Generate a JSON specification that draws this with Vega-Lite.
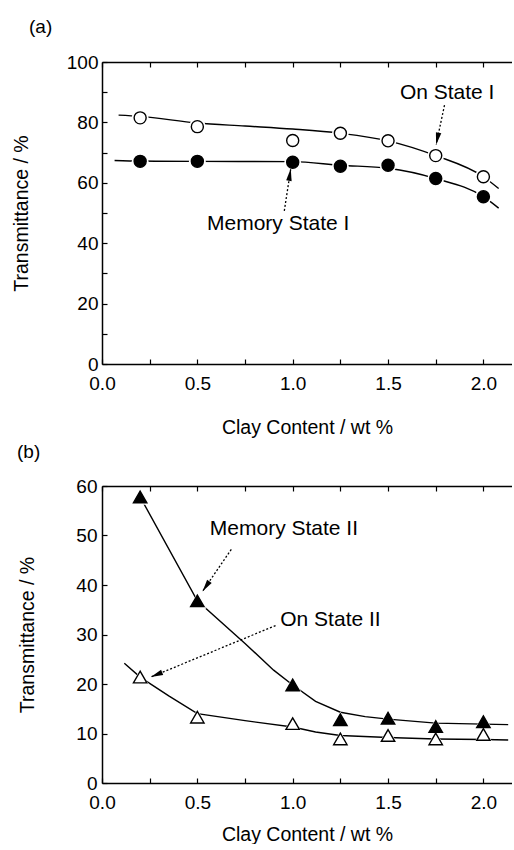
{
  "$schema": "https://vega.github.io/schema/vega-lite/v6.json",
  "padding": {"left": 11, "top": 18, "right": 0, "bottom": 0},
  "spacing": 6,
  "config": {
    "font": "Liberation Sans",
    "view": {"stroke": null},
    "axis": {
      "labelFont": "Liberation Sans", "labelFontSize": 19, "labelColor": "black",
      "titleFont": "Liberation Sans", "titleFontSize": 19.5, "titleFontWeight": "normal", "titleColor": "black",
      "domainColor": "black", "domainWidth": 1.5, "tickColor": "black", "tickSize": -5, "tickWidth": 1.2,
      "grid": false, "labelFlush": false, "labelOverlap": false
    },
    "title": {"font": "Liberation Sans", "fontSize": 19, "fontWeight": "normal", "anchor": "start", "frame": "group", "color": "black"}
  },
  "datasets": {
    "ptsA": [
      {"series": "On State I", "x": 0.2, "y": 81.5}, {"series": "On State I", "x": 0.5, "y": 78.6},
      {"series": "On State I", "x": 1.0, "y": 74.0}, {"series": "On State I", "x": 1.25, "y": 76.4},
      {"series": "On State I", "x": 1.5, "y": 73.9}, {"series": "On State I", "x": 1.75, "y": 69.0},
      {"series": "On State I", "x": 2.0, "y": 62.0},
      {"series": "Memory State I", "x": 0.2, "y": 67.1}, {"series": "Memory State I", "x": 0.5, "y": 67.1},
      {"series": "Memory State I", "x": 1.0, "y": 66.8}, {"series": "Memory State I", "x": 1.25, "y": 65.5},
      {"series": "Memory State I", "x": 1.5, "y": 65.8}, {"series": "Memory State I", "x": 1.75, "y": 61.4},
      {"series": "Memory State I", "x": 2.0, "y": 55.4}
    ],
    "fitA": [
      {"series": "On State I", "x": 0.087, "y": 82.4}, {"series": "On State I", "x": 0.2, "y": 82.0},
      {"series": "On State I", "x": 0.5, "y": 79.8}, {"series": "On State I", "x": 0.75, "y": 78.8},
      {"series": "On State I", "x": 1.0, "y": 77.8}, {"series": "On State I", "x": 1.25, "y": 76.4},
      {"series": "On State I", "x": 1.5, "y": 73.9}, {"series": "On State I", "x": 1.75, "y": 69.0},
      {"series": "On State I", "x": 2.0, "y": 62.0}, {"series": "On State I", "x": 2.08, "y": 58.1},
      {"series": "Memory State I", "x": 0.066, "y": 67.4}, {"series": "Memory State I", "x": 0.2, "y": 67.2},
      {"series": "Memory State I", "x": 0.5, "y": 67.1}, {"series": "Memory State I", "x": 1.0, "y": 67.0},
      {"series": "Memory State I", "x": 1.25, "y": 65.8}, {"series": "Memory State I", "x": 1.5, "y": 64.8},
      {"series": "Memory State I", "x": 1.75, "y": 61.4}, {"series": "Memory State I", "x": 2.0, "y": 55.4},
      {"series": "Memory State I", "x": 2.08, "y": 51.6}
    ],
    "labelsA": [
      {"text": "On State I", "x": 1.81, "y": 89.7},
      {"text": "Memory State I", "x": 0.924, "y": 46.3}
    ],
    "arrowsA": [
      {"text": "On State I", "x": 1.796, "y": 85.7, "x2": 1.752, "y2": 72.6},
      {"text": "Memory State I", "x": 0.956, "y": 50.7, "x2": 0.99, "y2": 64.7}
    ],
    "ptsB": [
      {"series": "Memory State II", "x": 0.2, "y": 57.8}, {"series": "Memory State II", "x": 0.5, "y": 36.8},
      {"series": "Memory State II", "x": 1.0, "y": 19.8}, {"series": "Memory State II", "x": 1.25, "y": 12.8},
      {"series": "Memory State II", "x": 1.5, "y": 13.1}, {"series": "Memory State II", "x": 1.75, "y": 11.4},
      {"series": "Memory State II", "x": 2.0, "y": 12.4},
      {"series": "On State II", "x": 0.2, "y": 21.4}, {"series": "On State II", "x": 0.5, "y": 13.3},
      {"series": "On State II", "x": 1.0, "y": 12.0}, {"series": "On State II", "x": 1.25, "y": 8.9},
      {"series": "On State II", "x": 1.5, "y": 9.6}, {"series": "On State II", "x": 1.75, "y": 8.9},
      {"series": "On State II", "x": 2.0, "y": 9.8}
    ],
    "fitB": [
      {"series": "Memory State II", "x": 0.2, "y": 57.8}, {"series": "Memory State II", "x": 0.5, "y": 36.8},
      {"series": "Memory State II", "x": 0.75, "y": 28.2}, {"series": "Memory State II", "x": 0.9, "y": 22.8},
      {"series": "Memory State II", "x": 1.0, "y": 19.8}, {"series": "Memory State II", "x": 1.12, "y": 16.5},
      {"series": "Memory State II", "x": 1.25, "y": 14.3}, {"series": "Memory State II", "x": 1.38, "y": 13.4},
      {"series": "Memory State II", "x": 1.5, "y": 12.9}, {"series": "Memory State II", "x": 1.75, "y": 12.1},
      {"series": "Memory State II", "x": 2.0, "y": 11.9}, {"series": "Memory State II", "x": 2.13, "y": 11.8},
      {"series": "On State II", "x": 0.117, "y": 24.2}, {"series": "On State II", "x": 0.2, "y": 21.4},
      {"series": "On State II", "x": 0.35, "y": 17.6}, {"series": "On State II", "x": 0.5, "y": 14.0},
      {"series": "On State II", "x": 0.75, "y": 12.6}, {"series": "On State II", "x": 1.0, "y": 11.3},
      {"series": "On State II", "x": 1.12, "y": 10.3}, {"series": "On State II", "x": 1.25, "y": 9.6},
      {"series": "On State II", "x": 1.5, "y": 9.2}, {"series": "On State II", "x": 1.75, "y": 8.9},
      {"series": "On State II", "x": 2.0, "y": 8.8}, {"series": "On State II", "x": 2.13, "y": 8.7}
    ],
    "labelsB": [
      {"text": "Memory State II", "x": 0.954, "y": 51.3},
      {"text": "On State II", "x": 1.198, "y": 32.9}
    ],
    "arrowsB": [
      {"text": "Memory State II", "x": 0.678, "y": 47.2, "x2": 0.527, "y2": 38.7},
      {"text": "On State II", "x": 0.91, "y": 31.8, "x2": 0.256, "y2": 21.4}
    ]
  },
  "vconcat": [
    {
      "width": 410, "height": 302,
      "title": {"text": "(a)", "dx": -73, "offset": 16},
      "resolve": {"axis": {"x": "independent", "y": "independent"}},
      "layer": [
        {
          "data": {"name": "fitA"},
          "mark": {"type": "line", "color": "black", "strokeWidth": 1.4, "interpolate": "monotone"},
          "encoding": {
            "x": {"field": "x", "type": "quantitative", "scale": {"domain": [0, 2.15], "nice": false, "zero": false},
                  "axis": {"orient": "bottom", "values": [0, 0.25, 0.5, 0.75, 1.0, 1.25, 1.5, 1.75, 2.0],
                           "labelExpr": "(datum.value * 2) % 1 === 0 ? format(datum.value, '.1f') : ''",
                           "title": "Clay Content / wt %", "labelPadding": 15, "titlePadding": 25}},
            "y": {"field": "y", "type": "quantitative", "scale": {"domain": [0, 100], "nice": false},
                  "axis": {"orient": "left", "values": [0, 10, 20, 30, 40, 50, 60, 70, 80, 90, 100],
                           "labelExpr": "datum.value % 20 === 0 ? datum.label : ''",
                           "title": "Transmittance / %", "labelPadding": 9, "titlePadding": 35}},
            "detail": {"field": "series"}
          }
        },
        {
          "data": {"name": "ptsA"},
          "mark": {"type": "point", "shape": "circle", "filled": true, "color": "white", "size": 280, "opacity": 1},
          "encoding": {
            "x": {"field": "x", "type": "quantitative", "axis": null},
            "y": {"field": "y", "type": "quantitative", "axis": null}
          }
        },
        {
          "data": {"name": "ptsA"},
          "mark": {"type": "point", "shape": "circle", "filled": true, "stroke": "black", "strokeWidth": 1.4, "size": 145, "opacity": 1},
          "encoding": {
            "x": {"field": "x", "type": "quantitative",
                  "axis": {"orient": "top", "values": [0, 0.25, 0.5, 0.75, 1.0, 1.25, 1.5, 1.75, 2.0], "labels": false, "title": null}},
            "y": {"field": "y", "type": "quantitative", "axis": null},
            "fill": {"field": "series", "type": "nominal", "scale": {"domain": ["On State I", "Memory State I"], "range": ["white", "black"]}, "legend": null}
          }
        },
        {
          "data": {"name": "arrowsA"},
          "mark": {"type": "rule", "color": "black", "strokeWidth": 1.3, "strokeDash": [2, 2]},
          "encoding": {
            "x": {"field": "x", "type": "quantitative", "axis": null},
            "y": {"field": "y", "type": "quantitative", "axis": null},
            "x2": {"field": "x2"},
            "y2": {"field": "y2"}
          }
        },
        {
          "data": {"name": "arrowsA"},
          "transform": [{"filter": "datum.text === 'On State I'"}],
          "mark": {"type": "point", "shape": "M0,0L0.45,2L-0.45,2Z", "filled": true, "color": "black", "size": 150, "opacity": 1, "angle": 191.8},
          "encoding": {
            "x": {"field": "x2", "type": "quantitative", "axis": null},
            "y": {"field": "y2", "type": "quantitative", "axis": null}
          }
        },
        {
          "data": {"name": "arrowsA"},
          "transform": [{"filter": "datum.text === 'Memory State I'"}],
          "mark": {"type": "point", "shape": "M0,0L0.45,2L-0.45,2Z", "filled": true, "color": "black", "size": 150, "opacity": 1, "angle": 8.9},
          "encoding": {
            "x": {"field": "x2", "type": "quantitative", "axis": null},
            "y": {"field": "y2", "type": "quantitative", "axis": null}
          }
        },
        {
          "data": {"name": "labelsA"},
          "mark": {"type": "text", "fontSize": 21, "font": "Liberation Sans", "color": "black", "align": "center", "baseline": "middle"},
          "encoding": {
            "x": {"field": "x", "type": "quantitative", "axis": null},
            "y": {"field": "y", "type": "quantitative", "axis": null},
            "text": {"field": "text"}
          }
        }
      ]
    },
    {
      "width": 410, "height": 297,
      "title": {"text": "(b)", "dx": -85, "offset": 15},
      "resolve": {"axis": {"x": "independent", "y": "independent"}},
      "layer": [
        {
          "data": {"name": "fitB"},
          "mark": {"type": "line", "color": "black", "strokeWidth": 1.4, "interpolate": "linear"},
          "encoding": {
            "x": {"field": "x", "type": "quantitative", "scale": {"domain": [0, 2.15], "nice": false, "zero": false},
                  "axis": {"orient": "bottom", "values": [0, 0.25, 0.5, 0.75, 1.0, 1.25, 1.5, 1.75, 2.0],
                           "labelExpr": "(datum.value * 2) % 1 === 0 ? format(datum.value, '.1f') : ''",
                           "title": "Clay Content / wt %", "labelPadding": 15, "titlePadding": 13}},
            "y": {"field": "y", "type": "quantitative", "scale": {"domain": [0, 60], "nice": false},
                  "axis": {"orient": "left", "values": [0, 10, 20, 30, 40, 50, 60],
                           "title": "Transmittance / %", "labelPadding": 10, "titlePadding": 38}},
            "detail": {"field": "series"}
          }
        },
        {
          "data": {"name": "ptsB"},
          "mark": {"type": "point", "shape": "triangle-up", "filled": true, "color": "white", "size": 330, "opacity": 1},
          "encoding": {
            "x": {"field": "x", "type": "quantitative", "axis": null},
            "y": {"field": "y", "type": "quantitative", "axis": null}
          }
        },
        {
          "data": {"name": "ptsB"},
          "mark": {"type": "point", "shape": "triangle-up", "filled": true, "stroke": "black", "strokeWidth": 1.4, "size": 180, "opacity": 1},
          "encoding": {
            "x": {"field": "x", "type": "quantitative",
                  "axis": {"orient": "top", "values": [0, 0.25, 0.5, 0.75, 1.0, 1.25, 1.5, 1.75, 2.0], "labels": false, "title": null}},
            "y": {"field": "y", "type": "quantitative", "axis": null},
            "fill": {"field": "series", "type": "nominal", "scale": {"domain": ["On State II", "Memory State II"], "range": ["white", "black"]}, "legend": null}
          }
        },
        {
          "data": {"name": "arrowsB"},
          "mark": {"type": "rule", "color": "black", "strokeWidth": 1.3, "strokeDash": [2, 2]},
          "encoding": {
            "x": {"field": "x", "type": "quantitative", "axis": null},
            "y": {"field": "y", "type": "quantitative", "axis": null},
            "x2": {"field": "x2"},
            "y2": {"field": "y2"}
          }
        },
        {
          "data": {"name": "arrowsB"},
          "transform": [{"filter": "datum.text === 'Memory State II'"}],
          "mark": {"type": "point", "shape": "M0,0L0.45,2L-0.45,2Z", "filled": true, "color": "black", "size": 150, "opacity": 1, "angle": 214.4},
          "encoding": {
            "x": {"field": "x2", "type": "quantitative", "axis": null},
            "y": {"field": "y2", "type": "quantitative", "axis": null}
          }
        },
        {
          "data": {"name": "arrowsB"},
          "transform": [{"filter": "datum.text === 'On State II'"}],
          "mark": {"type": "point", "shape": "M0,0L0.45,2L-0.45,2Z", "filled": true, "color": "black", "size": 150, "opacity": 1, "angle": 247.5},
          "encoding": {
            "x": {"field": "x2", "type": "quantitative", "axis": null},
            "y": {"field": "y2", "type": "quantitative", "axis": null}
          }
        },
        {
          "data": {"name": "labelsB"},
          "mark": {"type": "text", "fontSize": 21, "font": "Liberation Sans", "color": "black", "align": "center", "baseline": "middle"},
          "encoding": {
            "x": {"field": "x", "type": "quantitative", "axis": null},
            "y": {"field": "y", "type": "quantitative", "axis": null},
            "text": {"field": "text"}
          }
        }
      ]
    }
  ]
}
